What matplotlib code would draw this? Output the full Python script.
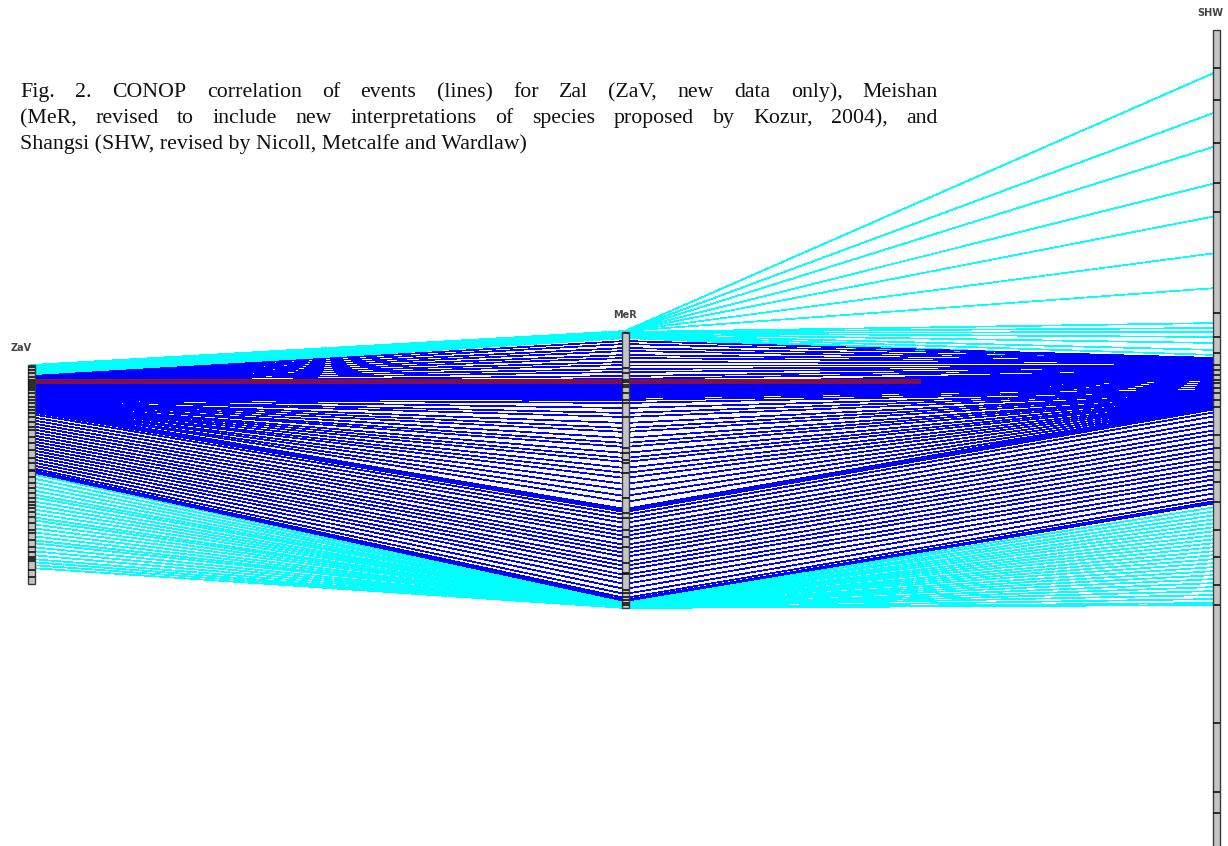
import matplotlib
matplotlib.use("Agg")
import matplotlib.pyplot as plt
from matplotlib.collections import LineCollection
from matplotlib.patches import Rectangle

# ---------------- data (event levels in each section) -------------
# Group 1: events projected above the top of MeR (cyan on both sides)
G1_ZAV = [365, 365, 366, 366, 367, 368, 368, 369, 370, 371, 372, 372, 373, 374, 375, 376]
G1_MER = [331, 331, 331, 331, 331, 331, 331, 332, 332, 333, 333, 334, 335, 336, 337, 338]
G1_SHW = [72, 112, 146, 183, 216, 253, 288, 323, 328, 332, 337, 343, 350, 355, 360, 363]

# Group 2: upper fan (blue)
G2_ZAV = [376, 377, 377, 378, 378, 379, 379, 380, 380, 381, 382, 383]
G2_MER = [341, 344, 348, 351, 355, 358, 362, 365, 369, 372, 376, 379]
G2_SHW = [358, 359, 360, 361, 362, 363, 364, 365, 366, 367, 368, 369]

# Marker horizon (dark red)
RED_ZAV = 381
RED_MER = 381
RED_SHW = 381

# Group 3: dense band
G3_ZAV = [383, 384, 385, 386, 387, 388, 389, 390, 391, 392, 393, 394, 395, 396, 397, 398]
G3_MER = [384, 385, 386, 387, 388, 389, 390, 391, 392, 393, 394, 395, 396, 397, 398, 400]
G3_SHW = [370, 371, 372, 373, 374, 375, 376, 377, 378, 379, 380, 382, 384, 386, 388, 390]

# Group 4: lines above the diagonal
G4_ZAV = [399, 399, 400, 400, 401, 401, 402, 402, 403, 403, 404, 404, 405, 405, 406, 406, 407, 407, 408, 408]
G4_MER = [403, 408, 413, 417, 423, 428, 432, 438, 443, 447, 453, 458, 462, 468, 473, 478, 484, 490, 496, 502]
G4_SHW = [391, 392, 392, 393, 394, 394, 395, 396, 396, 397, 398, 399, 400, 401, 402, 403, 404, 405, 406, 407]

# Group 5: thick diagonal
G5_ZAV = [409, 410, 411, 412]
G5_MER = [509, 510, 511, 512]
G5_SHW = [406, 407, 408, 409]

# Group 6: lines below the diagonal
G6_ZAV = [414, 417, 420, 423, 426, 429, 432, 435, 438, 441, 444, 447, 450, 453, 456, 459,
          462, 465, 468, 470, 471, 472]
G6_MER = [515, 519, 523, 528, 532, 536, 540, 545, 549, 553, 557, 562, 566, 570, 575, 579,
          584, 589, 594, 598, 600, 601]
G6_SHW = [412, 416, 421, 425, 430, 434, 439, 443, 448, 452, 457, 461, 466, 470, 475, 479,
          484, 488, 493, 498, 501, 503]

# Group 7: events projected below MeR base (cyan)
G7_ZAV = [474, 478, 482, 486, 490, 494, 497, 501, 505, 509, 513, 517, 520, 524, 528, 532,
          536, 540, 543, 547, 551, 555, 559, 562, 565, 568]
G7_MER = [601, 601, 602, 602, 603, 603, 603, 604, 604, 604, 604, 605, 605, 605, 605, 606,
          606, 606, 606, 607, 607, 607, 607, 608, 608, 608]
G7_SHW = [507, 511, 515, 519, 523, 527, 531, 535, 539, 543, 547, 551, 555, 559, 563, 567,
          571, 575, 579, 583, 587, 591, 595, 599, 603, 605]

# Sections: name, top, base, sample levels
SECTIONS = ["ZaV", "MeR", "SHW"]
ZAV_RANGE = (365, 584)
MER_RANGE = (332, 608)
SHW_RANGE = (30, 870)
ZAV_SAMPLES = [367, 370, 373, 377, 380, 382, 384, 386, 388, 390, 393, 397, 400, 403, 407, 410,
               413, 417, 422, 427, 430, 437, 443, 450, 458, 463, 470, 471, 477, 483, 488, 493,
               498, 502, 505, 508, 512, 517, 523, 530, 533, 540, 547, 552, 557, 559, 561, 570, 577]
MER_SAMPLES = [333, 368, 373, 380, 382, 385, 387, 393, 400, 403, 417, 448, 453, 460, 463, 473,
               498, 513, 518, 530, 537, 547, 563, 573, 574, 590, 593, 597, 600, 603, 605]
SHW_SAMPLES = [68, 100, 143, 183, 212, 313, 337, 353, 365, 370, 375, 380, 383, 388, 393, 400,
               407, 435, 448, 462, 470, 482, 502, 530, 557, 585, 605, 723, 792, 813]

CAPTION = [
    "Fig. 2.  CONOP correlation of events (lines) for Zal (ZaV, new data only), Meishan",
    "(MeR, revised to include new interpretations of species proposed by Kozur, 2004), and",
    "Shangsi (SHW, revised by Nicoll, Metcalfe and Wardlaw)",
]

# ---------------- layout / style -------------
W, H = 1228, 846
fig = plt.figure(figsize=(W / 100, H / 100), dpi=100)
ax = fig.add_axes([0, 0, 1, 1])
ax.set_xlim(0, W)
ax.set_ylim(H, 0)
ax.axis("off")

XCOL = {"ZaV": 31, "MeR": 625, "SHW": 1216}
LABEL_X = {"ZaV": 21, "MeR": 625, "SHW": 1210}
CYAN = "#00FFFF"
BLUE = "#0000FF"
RED = "#80104A"
LW = 0.5

groups = [
    (G1_ZAV, G1_MER, G1_SHW, CYAN),
    (G7_ZAV, G7_MER, G7_SHW, CYAN),
    (G2_ZAV, G2_MER, G2_SHW, BLUE),
    (G3_ZAV, G3_MER, G3_SHW, BLUE),
    (G4_ZAV, G4_MER, G4_SHW, BLUE),
    (G5_ZAV, G5_MER, G5_SHW, BLUE),
    (G6_ZAV, G6_MER, G6_SHW, BLUE),
]

x0, x1, x2 = XCOL["ZaV"], XCOL["MeR"], XCOL["SHW"]

for z, m, s, c in groups:
    segs = [[(x0, a), (x1, b)] for a, b in zip(z, m)]
    ax.add_collection(LineCollection(segs, colors=c, linewidths=LW, zorder=2,
                                     antialiaseds=False))

RED_END_X = 920
frac = (RED_END_X - x1) / (x2 - x1)
red_end_y = RED_MER + (RED_SHW - RED_MER) * frac

for z, m, s, c in groups:
    segs = [[(x1, b), (x2, d)] for b, d in zip(m, s)]
    zo = 4 if c == BLUE else 2
    ax.add_collection(LineCollection(segs, colors=c, linewidths=LW, zorder=zo,
                                     antialiaseds=False))

ax.plot([x0, x1, RED_END_X], [RED_ZAV, RED_MER, red_end_y],
        color=RED, lw=2.2, zorder=5, solid_capstyle="butt", antialiased=False)

# section columns
ranges = {"ZaV": ZAV_RANGE, "MeR": MER_RANGE, "SHW": SHW_RANGE}
samples = {"ZaV": ZAV_SAMPLES, "MeR": MER_SAMPLES, "SHW": SHW_SAMPLES}
for name in SECTIONS:
    x = XCOL[name]
    top, base = ranges[name]
    ax.add_patch(Rectangle((x - 3.5, top), 7, base - top, facecolor="#c4c4c4",
                           edgecolor="#3a3a3a", lw=1.0, zorder=6))
    ax.hlines(samples[name], x - 3.5, x + 3.5, colors="#111111", lw=1.2, zorder=7)
    ax.text(LABEL_X[name], top - 14, name, ha="center", va="baseline", fontsize=7,
            color="#444444", family="DejaVu Sans", fontweight="bold", zorder=8)

# caption (justified first two lines)
CAP_X0, CAP_X1 = 20, 938
CAP_Y = [97, 123, 149]
cap_kw = dict(fontsize=15.75, family="Liberation Serif", color="#111111", va="baseline")
renderer = fig.canvas.get_renderer()
for i, line in enumerate(CAPTION):
    if i < 2:
        words = line.replace("  ", " ").split(" ")
        texts = [ax.text(0, CAP_Y[i], w, **cap_kw) for w in words]
        widths = [t.get_window_extent(renderer).width for t in texts]
        gap = (CAP_X1 - CAP_X0 - sum(widths)) / (len(words) - 1)
        xx = CAP_X0
        for t, w in zip(texts, widths):
            t.set_x(xx)
            xx += w + gap
    else:
        ax.text(CAP_X0, CAP_Y[i], line, **cap_kw)

fig.savefig("out.png", dpi=100)
